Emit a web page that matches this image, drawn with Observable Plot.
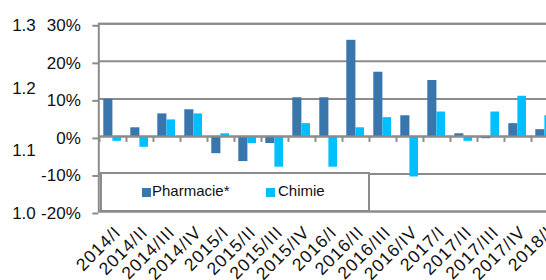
<!DOCTYPE html>
<html>
<head>
<meta charset="utf-8">
<script src="https://cdn.jsdelivr.net/npm/d3@7"></script>
<script src="https://cdn.jsdelivr.net/npm/@observablehq/plot@0.6"></script>
<style>
  html, body { margin: 0; padding: 0; background: #fff; overflow: hidden; }
  #wrap { position: relative; width: 546px; height: 280px; overflow: hidden;
          font-family: "Liberation Sans", Arial, sans-serif; color: #111; }
  #wrap svg { position: absolute; left: 0; top: 0; max-width: none !important; width: 560px !important; height: 280px !important; }
  #legend { position: absolute; left: 100px; top: 172px; width: 266px; height: 36px;
            border: 2px solid #8c8c8c; background: #fff; }
  .sw { position: absolute; width: 9px; height: 9px; }
  .lt { position: absolute; font-size: 15px; line-height: 15px; white-space: nowrap; }
  .xlab text { letter-spacing: 1px; }
</style>
</head>
<body>
<div id="wrap">
  <div id="legend"></div>
</div>
<script>
// ---- data ----
const periods = ["2014/I","2014/II","2014/III","2014/IV","2015/I","2015/II","2015/III","2015/IV",
                 "2016/I","2016/II","2016/III","2016/IV","2017/I","2017/II","2017/III","2017/IV","2018/I"];
const pharmacie = [9.9, 2.3, 6.0, 7.1, -4.6, -6.7, -1.9, 10.3, 10.3, 25.6, 17.1, 5.5, 14.9, 0.7, -0.6, 3.4, 1.8];
const chimie    = [-1.3, -2.9, 4.4, 6.0, 0.7, -1.9, -8.2, 3.4, -8.2, 2.3, 5.0, -10.8, 6.5, -1.3, 6.5, 10.7, 5.5];
const seriesNames = ["Pharmacie*", "Chimie"];
const seriesColors = ["#3876ab", "#00bfff"];
const yTicks = [-20, -10, 0, 10, 20, 30];
const secondaryTicks = [1.0, 1.1, 1.2, 1.3];

const table = periods.map((p, i) => ({period: p, pharmacie: pharmacie[i], chimie: chimie[i]}));
const toPct = v => (v - 1.0) / 0.3 * 50 - 20;  // secondary axis 1.0..1.3 spans -20%..30%
const grid = "#8c8c8c";

const chart = Plot.plot({
  width: 560,
  height: 280,
  marginLeft: 98.3,
  marginRight: 2.2,
  marginTop: 23.3,
  marginBottom: 69,
  style: {fontFamily: "Liberation Sans, Arial, sans-serif", fontSize: "17px", background: "transparent", color: "#111"},
  x: {domain: periods, padding: 0, axis: null},
  y: {domain: [-20, 30]},
  marks: [
    Plot.ruleY(yTicks, {stroke: grid, strokeWidth: 2}),
    Plot.frame({stroke: grid, strokeWidth: 2}),
    Plot.barY(table, {x: "period", y: "pharmacie", fill: seriesColors[0], insetLeft: 4.3, insetRight: 13.6}),
    Plot.barY(table, {x: "period", y: "chimie", fill: seriesColors[1], insetLeft: 13.4, insetRight: 5.0}),
    Plot.ruleY([0], {stroke: grid, strokeWidth: 2}),
    Plot.ruleX(periods, {x: d => d, y1: 0, y2: -1.6, dx: -13.515, stroke: grid, strokeWidth: 2}),
    Plot.axisY({ticks: yTicks, tickFormat: d => d + "%", tickSize: 6, tickPadding: 12,
                stroke: grid, strokeWidth: 2, fill: "#111", fontSize: 17, dy: 2, label: null}),
    Plot.text(secondaryTicks, {y: toPct, text: d => d.toFixed(1), frameAnchor: "left",
                textAnchor: "end", dx: -63, dy: 2, fontSize: 17, fill: "#111"}),
    Plot.text(periods, {x: d => d, text: d => d, frameAnchor: "bottom", rotate: -45,
                textAnchor: "end", lineAnchor: "top", dx: 0, dy: 13, fontSize: 17.5, fill: "#111",
                className: "xlab"})
  ]
});
document.getElementById("wrap").prepend(chart);

// legend
const wrap = document.getElementById("wrap");
const legendItems = [
  {name: seriesNames[0], color: seriesColors[0], sx: 142, tx: 152},
  {name: seriesNames[1], color: seriesColors[1], sx: 265.5, tx: 278}
];
for (const it of legendItems) {
  const sw = document.createElement("div");
  sw.className = "sw";
  sw.style.left = it.sx + "px"; sw.style.top = "187.5px"; sw.style.background = it.color;
  wrap.appendChild(sw);
  const t = document.createElement("div");
  t.className = "lt";
  t.style.left = it.tx + "px"; t.style.top = "183.3px";
  t.textContent = it.name;
  wrap.appendChild(t);
}
</script>
</body>
</html>
